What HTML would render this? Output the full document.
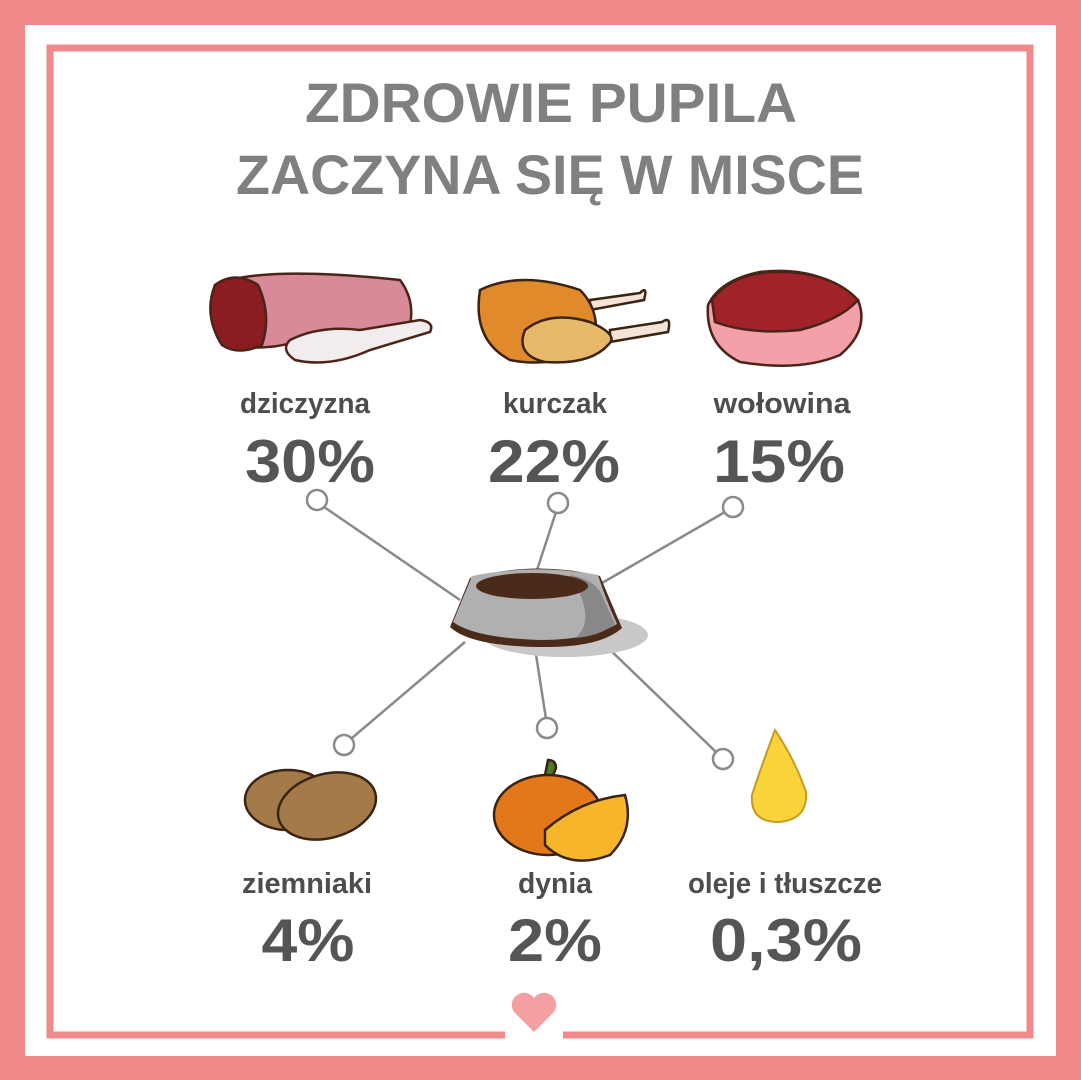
<!DOCTYPE html>
<html><head><meta charset="utf-8"><style>
html,body{margin:0;padding:0;background:#fff}
svg{display:block}
text{font-family:"Liberation Sans",sans-serif;font-weight:bold;text-anchor:middle}
</style></head><body>
<svg width="1081" height="1080" viewBox="0 0 1081 1080" xmlns="http://www.w3.org/2000/svg">
<rect width="1081" height="1080" fill="#f08a8a"/>
<rect x="25" y="25" width="1031" height="1031" fill="#fff"/>
<rect x="50" y="48" width="980" height="987" fill="none" stroke="#f08a8a" stroke-width="7"/>
<rect x="505" y="1025" width="58" height="16" fill="#fff"/>
<path d="M534 1032 L514 1012 A12 12 0 0 1 534 998 A12 12 0 0 1 554 1012 Z" fill="#f4a0a2"/>

<text x="551" y="122" font-size="56" fill="#808080" textLength="492" lengthAdjust="spacingAndGlyphs">ZDROWIE PUPILA</text>
<text x="550" y="194" font-size="56" fill="#808080" textLength="628" lengthAdjust="spacingAndGlyphs">ZACZYNA SIĘ W MISCE</text>

<g stroke="#8a8a8a" stroke-width="2.5" fill="none">
<line x1="324" y1="507" x2="460" y2="600"/>
<line x1="556" y1="512" x2="537" y2="570"/>
<line x1="725" y1="512" x2="602" y2="583"/>
<line x1="352" y1="738" x2="465" y2="642"/>
<line x1="546" y1="719" x2="535" y2="648"/>
<line x1="716" y1="752" x2="605" y2="645"/>
<circle cx="317" cy="500" r="10" fill="#fff"/>
<circle cx="558" cy="503" r="10" fill="#fff"/>
<circle cx="733" cy="507" r="10" fill="#fff"/>
<circle cx="344" cy="745" r="10" fill="#fff"/>
<circle cx="547" cy="728" r="10" fill="#fff"/>
<circle cx="723" cy="759" r="10" fill="#fff"/>
</g>

<ellipse cx="565" cy="635" rx="83" ry="22" fill="#c8c8c8"/>
<path d="M470 578 Q535 560 600 576 Q610 600 622 628 Q600 648 540 647 Q470 646 450 627 Z" fill="#4a2a18"/>
<path d="M472 576 Q535 563 598 575 Q606 600 617 624 Q590 640 540 640 Q475 638 453 622 Z" fill="#b0b0b0"/>
<path d="M570 575 Q598 580 604 600 L615 624 Q600 636 575 638 Q598 620 570 575Z" fill="#888"/>
<ellipse cx="532" cy="586" rx="56" ry="13" fill="#4a2a18"/>

<g stroke="#4a2418" stroke-width="2.5">
<path d="M215 285 Q260 265 400 280 Q415 300 410 325 L300 340 Q270 352 222 345 Q205 320 215 285Z" fill="#d98a98"/>
<path d="M215 285 Q235 270 258 285 Q272 315 262 345 Q238 356 222 345 Q203 315 215 285Z" fill="#8a1c22"/>
<path d="M290 340 Q320 325 360 330 L420 320 Q435 322 430 332 L370 350 Q330 368 295 360 Q280 350 290 340Z" fill="#f3ecec"/>
</g>
<g stroke="#3a2410" stroke-width="2.5">
<path d="M590 300 L640 293 Q648 285 644 300 L590 310Z" fill="#f5e3d8"/>
<path d="M610 330 L662 322 Q672 315 668 332 L610 342Z" fill="#f5e3d8"/>
<path d="M480 290 Q520 270 580 290 Q600 310 595 340 Q560 370 510 360 Q472 340 480 290Z" fill="#e08a2c"/>
<path d="M525 330 Q550 310 590 322 Q620 335 608 345 Q590 365 545 362 Q515 355 525 330Z" fill="#e6b868"/>
</g>
<g stroke="#4a2418" stroke-width="2.5">
<path d="M708 305 Q720 280 760 272 Q820 265 858 300 Q870 330 840 355 Q800 372 740 362 Q705 345 708 305Z" fill="#f4a0a8"/>
<path d="M712 300 Q730 275 770 272 Q830 270 858 300 Q840 320 800 330 Q750 335 715 322Z" fill="#a0232a"/>
</g>
<g stroke="#3a2410" stroke-width="2.5">
<ellipse cx="288" cy="800" rx="43" ry="30" fill="#a47a48"/>
<ellipse cx="327" cy="806" rx="50" ry="32" transform="rotate(-15 327 806)" fill="#a47a48"/>
</g>
<g stroke="#3a2410" stroke-width="2.5">
<path d="M545 775 L548 760 Q556 760 556 768 L552 778Z" fill="#4a7a2a"/>
<ellipse cx="548" cy="815" rx="54" ry="40" fill="#e2781a"/>
<path d="M545 830 Q580 800 625 795 Q635 830 610 855 Q570 870 545 845Z" fill="#f7b52c"/>
</g>
<path d="M775 730 Q760 770 752 795 Q750 822 778 822 Q808 820 806 792 Q795 760 775 730Z" fill="#f8d43a" stroke="#c89a20" stroke-width="2"/>

<g fill="#4d4d4d">
<text x="305" y="413" font-size="29" textLength="130" lengthAdjust="spacingAndGlyphs">dziczyzna</text>
<text x="555" y="413" font-size="29" textLength="104" lengthAdjust="spacingAndGlyphs">kurczak</text>
<text x="782" y="413" font-size="29" textLength="137" lengthAdjust="spacingAndGlyphs">wołowina</text>
<text x="310" y="482" font-size="60" fill="#555" textLength="130" lengthAdjust="spacingAndGlyphs">30%</text>
<text x="554" y="482" font-size="60" fill="#555" textLength="132" lengthAdjust="spacingAndGlyphs">22%</text>
<text x="779" y="482" font-size="60" fill="#555" textLength="132" lengthAdjust="spacingAndGlyphs">15%</text>
<text x="307" y="893" font-size="29" textLength="130" lengthAdjust="spacingAndGlyphs">ziemniaki</text>
<text x="555" y="893" font-size="29" textLength="74" lengthAdjust="spacingAndGlyphs">dynia</text>
<text x="785" y="893" font-size="29" textLength="194" lengthAdjust="spacingAndGlyphs">oleje i tłuszcze</text>
<text x="308" y="961" font-size="60" fill="#555" textLength="93" lengthAdjust="spacingAndGlyphs">4%</text>
<text x="555" y="961" font-size="60" fill="#555" textLength="94" lengthAdjust="spacingAndGlyphs">2%</text>
<text x="786" y="961" font-size="60" fill="#555" textLength="152" lengthAdjust="spacingAndGlyphs">0,3%</text>
</g>
</svg>
</body></html>
